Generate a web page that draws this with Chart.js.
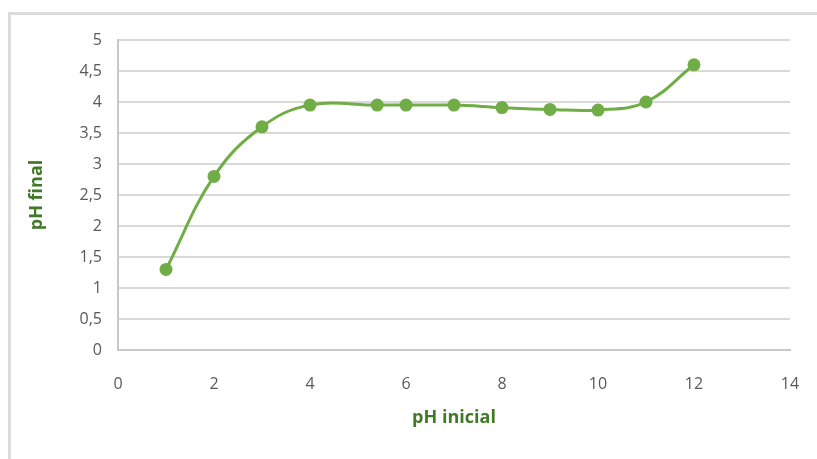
<!DOCTYPE html>
<html>
<head>
<meta charset="utf-8">
<script src="https://cdn.jsdelivr.net/npm/chart.js@4/dist/chart.umd.min.js"></script>
<style>
  body { margin: 0; background: #fff; }
  #wrap { position: relative; width: 817px; height: 459px; overflow: hidden; }
  #frame { position: absolute; left: 8px; top: 12px; width: 900px; height: 500px;
           border-left: 3px solid #dcdcdc; border-top: 3px solid #dcdcdc; }
  #myChart { position: absolute; left: 0; top: 0; }
</style>
</head>
<body>
<div id="wrap">
  <div id="frame"></div>
  <canvas id="myChart" width="817" height="459"></canvas>
</div>
<script>
// pH inicial vs pH final
const phInicial = [1, 2, 3, 4, 5.4, 6, 7, 8, 9, 10, 11, 12];
const phFinal = [1.3, 2.8, 3.6, 3.95, 3.95, 3.95, 3.95, 3.91, 3.88, 3.87, 4.0, 4.6];

const xTicks = ['0', '2', '4', '6', '8', '10', '12', '14'];
const yTicks = ['0', '0,5', '1', '1,5', '2', '2,5', '3', '3,5', '4', '4,5', '5'];

const green = '#70ad47';
const titleGreen = '#3f7a26';
const tickGray = '#595959';

const points = phInicial.map((x, i) => ({ x: x, y: phFinal[i] }));

const ctx = document.getElementById('myChart');
new Chart(ctx, {
    type: 'line',
    data: {
        datasets: [{
            data: points,
            borderColor: green,
            backgroundColor: green,
            borderWidth: 3,
            pointRadius: 6.5,
            pointBorderWidth: 0,
            tension: 0.4
        }]
    },
    options: {
        responsive: false,
        animation: false,
        layout: { padding: { top: 40, right: 27, bottom: 0, left: 0 } },
        plugins: { legend: { display: false }, tooltip: { enabled: false } },
        scales: {
            x: {
                type: 'linear',
                min: 0,
                max: 14,
                afterFit: (scale) => {
                    scale.height = 109;
                    scale.paddingLeft = 0;
                    scale.paddingRight = 0;
                },
                grid: { display: false, drawTicks: false },
                border: { display: true, color: '#c8c8c8', width: 2 },
                ticks: {
                    stepSize: 2,
                    padding: 25,
                    color: tickGray,
                    font: { family: 'Open Sans', size: 16 },
                    callback: (v) => xTicks[v / 2]
                },
                title: {
                    display: true,
                    text: 'pH inicial',
                    color: titleGreen,
                    font: { family: 'Open Sans', size: 18, weight: 'bold' },
                    padding: { top: 0, bottom: 30 }
                }
            },
            y: {
                min: 0,
                max: 5,
                afterFit: (scale) => { scale.width = 118; },
                grid: { color: '#d9d9d9', lineWidth: 2, drawTicks: false },
                border: { display: true, color: '#c8c8c8', width: 2 },
                ticks: {
                    stepSize: 0.5,
                    padding: 16,
                    color: tickGray,
                    font: { family: 'Open Sans', size: 16 },
                    callback: (v) => yTicks[Math.round(v * 2)]
                },
                title: {
                    display: true,
                    text: 'pH final',
                    color: titleGreen,
                    font: { family: 'Open Sans', size: 18, weight: 'bold' },
                    padding: { top: 26, bottom: 0 }
                }
            }
        }
    }
});
</script>
</body>
</html>
